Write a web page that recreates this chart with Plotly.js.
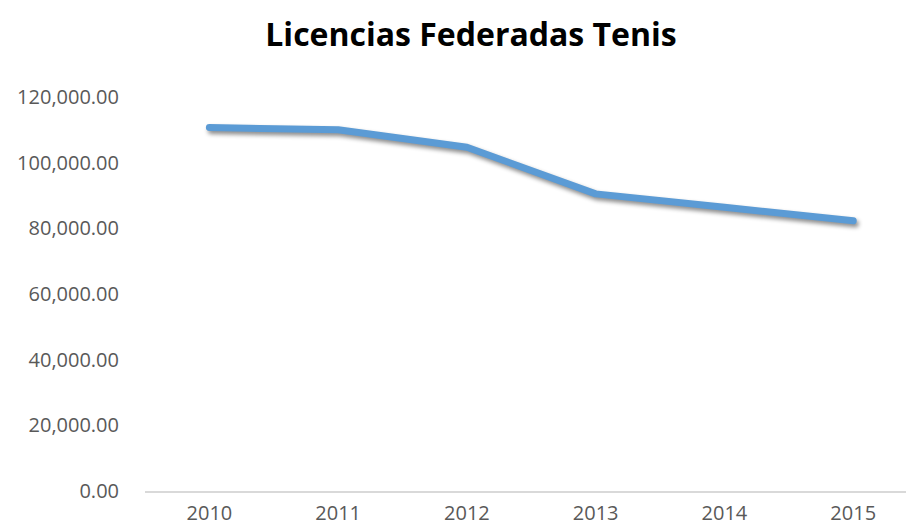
<!DOCTYPE html>
<html>
<head>
<meta charset="utf-8">
<script src="https://cdn.plot.ly/plotly-3.0.1.min.js"></script>
<style>
  html, body { margin: 0; padding: 0; background: #ffffff; }
  #chart { width: 906px; height: 532px; }
</style>
</head>
<body>
<div id="chart"></div>
<script>
const chartTitle = 'Licencias Federadas Tenis';
const years = ['2010', '2011', '2012', '2013', '2014', '2015'];
const licencias = [110700, 110000, 104700, 90500, 86400, 82300];
const yTicks = [0, 20000, 40000, 60000, 80000, 100000, 120000];

const trace = {
  x: years,
  y: licencias,
  type: 'scatter',
  mode: 'lines',
  line: { color: '#5b9bd5', width: 7 },
  hoverinfo: 'x+y'
};

const tickFont = { family: '"Open Sans", sans-serif', size: 20, color: '#595959' };

const layout = {
  width: 906,
  height: 532,
  margin: { l: 145, r: 0, t: 97, b: 41, pad: 0 },
  paper_bgcolor: '#ffffff',
  plot_bgcolor: '#ffffff',
  showlegend: false,
  title: {
    text: '<b>' + chartTitle + '</b>',
    font: { family: '"Open Sans", sans-serif', size: 32, color: '#000000' },
    x: 471 / 906,
    xanchor: 'center',
    xref: 'container',
    y: 1 - 35 / 532,
    yanchor: 'middle',
    yref: 'container'
  },
  xaxis: {
    type: 'category',
    categoryorder: 'array',
    categoryarray: years,
    range: [-0.5, 5.41],
    showline: true,
    linecolor: '#d9d9d9',
    linewidth: 1.5,
    showgrid: false,
    zeroline: false,
    ticks: '',
    tickfont: tickFont,
    ticklabelstandoff: 3
  },
  yaxis: {
    range: [0, 120000],
    tickvals: yTicks,
    tickformat: ',.2f',
    showline: false,
    showgrid: false,
    zeroline: false,
    ticks: '',
    tickfont: tickFont,
    ticklabelstandoff: 25
  }
};

Plotly.newPlot('chart', [trace], layout, { displayModeBar: false, staticPlot: true }).then(function () {
  document.querySelectorAll('#chart .scatterlayer .trace path.js-line').forEach(function (p) {
    p.style.strokeLinecap = 'round';
    p.style.strokeLinejoin = 'round';
    p.style.filter = 'drop-shadow(2px 3px 2px rgba(0,0,0,0.45))';
  });
});
</script>
</body>
</html>
